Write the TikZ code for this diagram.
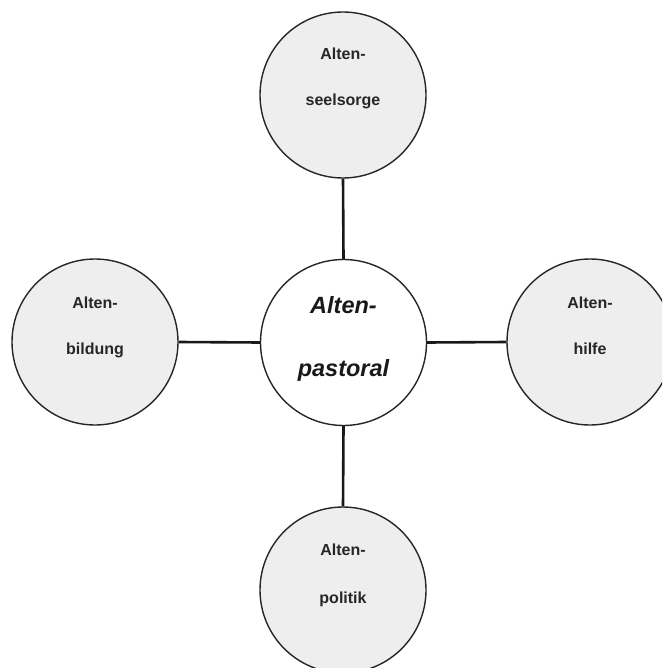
\documentclass[tikz,border=0pt]{standalone}
\usepackage{fontspec}
\setmainfont{Liberation Sans}
\usetikzlibrary{calc}
\definecolor{bubblefill}{HTML}{EEEEEE}
\tikzset{
  bubble/.style={circle, draw=black!85, line width=1.4pt, fill=bubblefill, minimum size=166pt, inner sep=0pt},
  hub/.style={bubble, fill=white},
  lbl/.style={anchor=base, inner sep=0pt, font=\fontsize{16}{16}\selectfont\bfseries, text=black!85},
  hublbl/.style={anchor=base, inner sep=0pt, font=\fontsize{23.5}{23.5}\selectfont\bfseries\itshape, text=black!90},
  link/.style={line width=2.6pt, black!90}
}
\begin{document}
\begin{tikzpicture}[x=1pt,y=-1pt]
\path[use as bounding box] (0,0) rectangle (662,668);
\clip (0,0) rectangle (662,668);
\fill[white] (0,0) rectangle (662,668);
\node[hub] (c) at (343.5,342.5) {};
\node[bubble] (t) at (343,95) {};
\node[bubble] (l) at (95,342) {};
\node[bubble] (r) at (590,342) {};
\node[bubble] (b) at (343,590) {};
\draw[link] (c.north) -- (t.south);
\draw[link] (c.south) -- (b.north);
\draw[link] (c.west) -- (l.east);
\draw[link] (c.east) -- (r.west);
\node[hublbl] (c1) at ($(c.center)+(0,-29.5)$) {Alten-};
\node[hublbl] (c2) at ($(c.center)+(0,33.5)$) {pastoral};
\node[lbl] (t1) at ($(t.center)+(0,-35)$) {Alten-};
\node[lbl] (t2) at ($(t.center)+(0,11)$) {seelsorge};
\node[lbl] (l1) at ($(l.center)+(0,-34)$) {Alten-};
\node[lbl] (l2) at ($(l.center)+(0,12)$) {bildung};
\node[lbl] (r1) at ($(r.center)+(0,-34)$) {Alten-};
\node[lbl] (r2) at ($(r.center)+(0,12)$) {hilfe};
\node[lbl] (b1) at ($(b.center)+(0,-35)$) {Alten-};
\node[lbl] (b2) at ($(b.center)+(0,13)$) {politik};
\end{tikzpicture}
\end{document}
